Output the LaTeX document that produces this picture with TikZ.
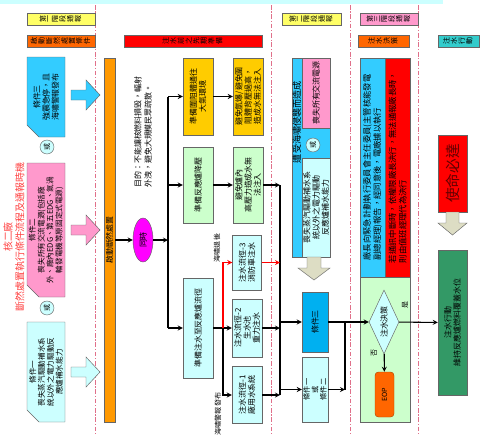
\documentclass[tikz,border=0pt]{standalone}
\usepackage{fontspec}
\setmainfont{Noto Sans CJK TC}
\usepackage{graphicx}
\usetikzlibrary{shapes.geometric}
\definecolor{flow_sky}{HTML}{CCFFFF}
\definecolor{flow_cyan}{HTML}{33CCFF}
\definecolor{flow_blue}{HTML}{00B0F0}
\definecolor{flow_pink}{HTML}{FF99CC}
\definecolor{flow_yellow}{HTML}{FFFF66}
\definecolor{flow_gold}{HTML}{FFCC00}
\definecolor{flow_orange}{HTML}{FF9900}
\definecolor{flow_amber}{HTML}{FF6600}
\definecolor{flow_red}{HTML}{FF0000}
\definecolor{flow_mint}{HTML}{CCFFCC}
\definecolor{flow_green}{HTML}{339966}
\definecolor{flow_teal}{HTML}{33CCCC}
\definecolor{flow_magenta}{HTML}{FF00FF}
\definecolor{flow_khaki}{HTML}{DDDDC4}
\definecolor{flow_line}{HTML}{666666}
\definecolor{flow_dash}{HTML}{E0708A}
\definecolor{flow_title}{HTML}{FF4040}
\definecolor{flow_maroon}{HTML}{600000}
\newcommand{\pxu}{0.03cm}
\newcommand{\boxfont}{\fontsize{6.8}{7.9}\selectfont}
\newcommand{\headfont}{\fontsize{6}{6}\selectfont}
% characters of a header set one by one, each turned a quarter
\newcommand{\vt}[1]{\vtstep#1\relax}
\def\vtstep#1{\ifx#1\relax\else\rotatebox{90}{#1}\kern1pt\expandafter\vtstep\fi}
% condition box with its lower left corner cut off
\newcommand{\condbox}[5]{%
  \filldraw[blockarrow, fill=#1] (#2,#3) -- (#4,#3) -- (#4,#5) -- (#2+12,#5) -- (#2,#5-12) -- cycle;%
}
\tikzset{
  box/.style={draw=flow_line, line width=0.4pt, rotate=90, align=center,
              inner sep=0.5pt, font=\boxfont},
  boxtext/.style={rotate=90, align=center, inner sep=0pt, font=\boxfont},
  dims/.style 2 args={minimum width=#1*\pxu, minimum height=#2*\pxu},
  header/.style={draw=flow_line, line width=0.4pt, inner sep=0pt,
                 minimum height=12*\pxu, font=\headfont},
  orc/.style={circle, draw=flow_line, fill=flow_sky, minimum size=14*\pxu,
              inner sep=0pt, rotate=90, font=\fontsize{6}{6}\selectfont},
  sidenote/.style={rotate=90, inner sep=0pt, font=\fontsize{6}{6}\selectfont},
  arr/.style={->, >=stealth, line width=0.9pt},
  redarr/.style={arr, draw=flow_red},
  wire/.style={line width=0.9pt},
  blockarrow/.style={draw=flow_line, line width=0.4pt},
  phase/.style={draw=flow_dash, line width=0.6pt,
                dash pattern=on 4pt off 1.5pt on 1pt off 1.5pt},
}

\begin{document}
\begin{tikzpicture}[x=0.03cm, y=-0.03cm]
  \useasboundingbox (0,0) rectangle (480,441);
  \fill[flow_sky] (0,0) rectangle (443,4);

  % --- phase separators ----------------------------------------------------
  \foreach \xs in {95,271,350,418} {
    \draw[phase] (\xs,5) -- (\xs,436);
  }

  % --- headers -------------------------------------------------------------
  \node[header, fill=flow_yellow, minimum width=68*\pxu] (phase1) at (61,19) {\vt{第一階段通報}};
  \node[header, fill=flow_yellow, minimum width=59*\pxu] (phase2) at (311.5,19) {\vt{第二階段通報}};
  \node[header, fill=flow_pink, minimum width=58*\pxu] (phase3) at (389,19) {\vt{第三階段通報}};
  \node[header, fill=flow_amber, minimum width=68*\pxu] (stepA) at (61,41) {\vt{啟動斷然處置條件}};
  \node[header, fill=flow_red, minimum width=138*\pxu] (stepB) at (193,41) {\vt{注水前之先期準備}};
  \node[header, fill=flow_amber, minimum width=51*\pxu] (stepC) at (383.5,41) {\vt{注水決策}};
  \node[header, fill=flow_teal, minimum width=41*\pxu] (stepD) at (458.5,41) {\vt{注水行動}};

  % --- title and conditions ------------------------------------------------
  \node[rotate=90, align=center, text=flow_title, inner sep=0pt,
        font=\fontsize{8.5}{10}\selectfont] (title) at (14,237)
    {核二廠\\斷然處置執行條件流程及通報時機};

  \condbox{flow_cyan}{27}{57}{65}{137}
  \condbox{flow_pink}{27}{163}{65}{297}
  \condbox{flow_sky}{27}{322}{65}{422}
  \node[boxtext, dims={80}{38}] (cond3) at (46,97) {條件三\\強震急停，且\\海嘯警報發布};
  \node[orc] (orA) at (47,147) {或};
  \node[boxtext, dims={134}{38}, font=\fontsize{6.5}{7.6}\selectfont] (cond2) at (46,230)
    {條件二\\喪失所有交流電源(包括廠\\外、廠內EDG、第五EDG、氣渦\\輪發電機等原固定式電源)};
  \node[orc] (orB) at (47,308) {或};
  \node[boxtext, dims={100}{38}, font=\fontsize{6.5}{7.6}\selectfont] (cond1) at (46,372)
    {條件一\\喪失蒸汽驅動補水系\\統以外之電力驅動反\\應爐補水能力};

  \foreach \yc/\col in {95/flow_cyan, 230/flow_pink, 372/flow_sky} {
    \filldraw[blockarrow, fill=\col] (71,\yc-5) -- (86,\yc-5) -- (86,\yc-15) -- (100,\yc)
      -- (86,\yc+15) -- (86,\yc+5) -- (71,\yc+5) -- cycle;
  }

  % --- start of the response -----------------------------------------------
  \node[box, fill=flow_orange, dims={364}{11}, inner sep=0pt] (trigger) at (109.5,240) {啟動斷然處置};
  \node[ellipse, draw=flow_line, fill=flow_magenta, rotate=90, dims={44}{20},
        inner sep=0pt, font=\boxfont] (sync) at (143,240) {同時};
  \node[rotate=90, align=left, inner sep=0pt, font=\fontsize{6.8}{8.7}\selectfont] (goal) at (143,132)
    {目的：不能讓核燃料損毀，輻射\\外洩，避免大規模民眾疏散。};

  % --- preparation before injection ----------------------------------------
  \node[box, fill=flow_gold, dims={77}{30}] (prepA) at (198,96.5) {準備圍阻體通往\\大氣環境};
  \node[box, fill=flow_gold, dims={77}{30}] (goalA) at (248,96.5) {避免氫爆/避免圍\\阻體背壓過高，\\造成水無法注入};
  \node[box, fill=flow_mint, dims={76}{30}] (prepB) at (198,185) {準備反應爐降壓};
  \node[box, fill=flow_mint, dims={76}{30}] (goalB) at (248,185) {避免爐內\\高壓力造成水無\\法注入};
  \node[box, fill=flow_sky, dims={100}{30}] (prepC) at (198,328) {準備注水至反應爐流徑};
  \node[box, fill=flow_sky, dims={55}{29}] (path3) at (247,262.5) {注水流徑-3\\消防車注水};
  \node[box, fill=flow_sky, dims={58}{30}] (path2) at (247,328) {注水流徑-2\\生水池\\重力注水};
  \node[box, fill=flow_sky, dims={57}{30}] (path1) at (247,395) {注水流徑-1\\廠用水系統};
  \node[sidenote] (ebb) at (217,248) {海嘯退後};
  \node[sidenote] (warn) at (218,414) {海嘯警報發布};

  % --- second phase --------------------------------------------------------
  \node[box, fill=flow_cyan, dims={199}{38}] (struck) at (311,157.5) {};
  \node[sidenote, font=\fontsize{7.8}{7.8}\selectfont] (struckText) at (297,122) {遭受海嘯侵襲而造成};
  \node[box, fill=flow_pink, dims={70}{28}] (acLoss) at (316,93) {喪失所有交流電源};
  \node[orc] (orC) at (313,145) {或};
  \node[box, fill=flow_sky, dims={99}{28}] (pumpLoss) at (316,207.5)
    {喪失蒸汽驅動補水系\\統以外之電力驅動\\反應爐補水能力};
  \filldraw[blockarrow, fill=flow_khaki] (307,257) -- (321,257) -- (321,268) -- (330,268)
    -- (314,280) -- (298,268) -- (307,268) -- cycle;
  \node[box, fill=flow_blue, dims={60}{26}] (cond3b) at (315,322) {條件三};
  \node[box, fill=flow_sky, dims={65}{26}, font=\fontsize{6.2}{7.2}\selectfont] (cond12) at (315,389.5)
    {條件一\\或\\條件二};

  % --- third phase ---------------------------------------------------------
  \node[box, fill=flow_cyan, dims={219}{25}, align=left, font=\fontsize{7.1}{8.6}\selectfont] (chief) at (372.5,167.5)
    {廠長向緊急計劃執行委員會主任委員(主管核能發電\\副總經理)報告，經同意後，電廠據以執行};
  \node[box, fill=flow_red, dims={219}{25}, align=left, font=\fontsize{7.1}{8.6}\selectfont] (authority) at (397.5,167.5)
    {若通訊中斷時，依權限廠長決行，無法通報廠長時，\\則由值班經理代為決行};
  \node[box, fill=flow_mint, dims={145}{50}] (zone) at (385,349.5) {};
  \node[diamond, aspect=2, draw=flow_line, fill=flow_sky, rotate=90, dims={64}{30},
        inner sep=0pt, font=\boxfont] (decide) at (384,322) {注水決策};
  \node[sidenote] (yes) at (405,305) {是};
  \node[sidenote] (no) at (374,353) {否};
  \node[box, rounded corners=3pt, fill=flow_amber, draw=flow_amber!70!black,
        dims={45}{19}, font=\fontsize{6}{6}\selectfont] (eop) at (384.5,394.5) {EOP};

  % --- action --------------------------------------------------------------
  \node[box, fill=flow_red, dims={77}{29}, text=flow_maroon,
        font=\fontsize{12.5}{12.5}\selectfont] (mission) at (452.5,173.5) {使命必達};
  \filldraw[blockarrow, fill=flow_khaki] (446,212) -- (459,212) -- (459,223) -- (467,223)
    -- (452.5,235) -- (438,223) -- (446,223) -- cycle;
  \node[box, fill=flow_green, dims={145}{29}] (action) at (452.5,322.5)
    {注水行動\\維持反應爐燃料覆蓋水位};

  % --- connectors ----------------------------------------------------------
  \draw[arr] (trigger) -- (sync);
  \coordinate (trunkTop) at (168,96.5);
  \coordinate (trunkIn) at (168,240);
  \coordinate (trunkMid) at (168,185);
  \coordinate (trunkBot) at (168,328);
  \draw[wire] (trunkTop) -- (trunkBot);
  \draw[arr] (sync) -- (trunkIn);
  \draw[arr] (trunkTop) -- (prepA);
  \draw[arr] (trunkMid) -- (prepB);
  \draw[arr] (trunkBot) -- (prepC);
  \draw[arr] (prepA) -- (goalA);
  \draw[arr] (prepB) -- (goalB);

  \coordinate (fork) at (223,328);
  \draw[wire] (prepC) -- (fork);
  \draw[arr] (fork) -- (path2);
  \draw[arr] (fork) |- (path1);
  \draw[redarr] (fork) |- (path3);

  \coordinate (busTop) at (280,185);
  \coordinate (busP3) at (280,262.5);
  \coordinate (busP2) at (280,328);
  \coordinate (busP1) at (280,395);
  \coordinate (busC3) at (280,322);
  \coordinate (busC12) at (280,389.5);
  \draw[wire] (busTop) -- (busP1);
  \draw[arr] (goalB) -- (busTop);
  \draw[redarr] (path3) -- (busP3);
  \draw[arr] (path2) -- (busP2);
  \draw[arr] (path1) -- (busP1);
  \draw[arr] (busC3) -- (cond3b);
  \draw[arr] (busC12) -- (cond12);

  \coordinate (mergeTop) at (345,322);
  \coordinate (mergeBot) at (345,389.5);
  \draw[arr] (cond3b) -- (decide);
  \draw[arr] (cond12) -- (mergeBot);
  \draw[wire] (mergeBot) -- (mergeTop);
  \draw[arr] (decide) -- (eop);
  \draw[arr] (decide) -- (action);

\end{tikzpicture}
\end{document}
